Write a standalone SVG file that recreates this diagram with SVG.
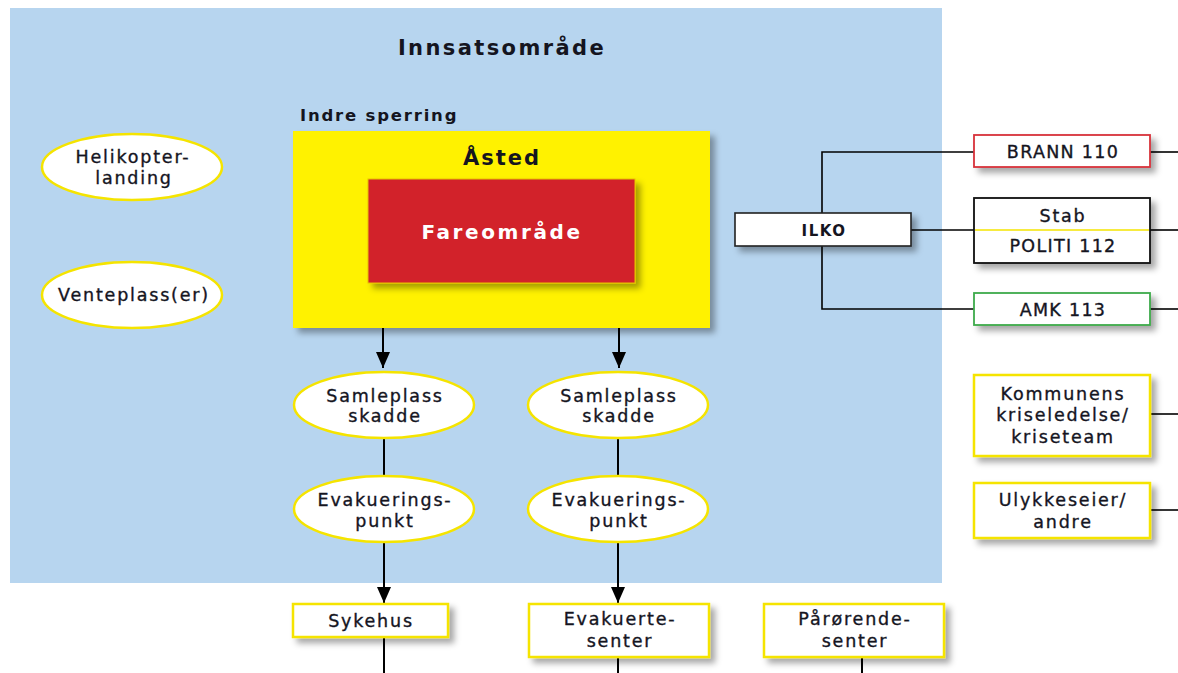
<svg xmlns="http://www.w3.org/2000/svg" width="1178" height="673" viewBox="0 0 1178 673">
<defs>
<filter id="sh" x="-20%" y="-20%" width="150%" height="160%">
<feDropShadow dx="5" dy="5" stdDeviation="3" flood-color="#000" flood-opacity="0.35"/>
</filter>
<marker id="arw" viewBox="0 0 16 14" refX="16" refY="7" markerWidth="16" markerHeight="14" markerUnits="userSpaceOnUse" orient="auto">
<path d="M0,0 L16,7 L0,14 z" fill="#000"/>
</marker>
</defs>
<style>
text{font-family:"DejaVu Sans","Liberation Sans",sans-serif;fill:#15151f;text-anchor:middle}
.t{font-size:17.5px;letter-spacing:1.8px;stroke:#15151f;stroke-width:0.35}
.b{font-weight:bold}
.ell{fill:#fff;stroke:#f5e400;stroke-width:2.5}
.yb{fill:#fff;stroke:#f5e400;stroke-width:2.5}
.ln{stroke:#000;stroke-width:2;fill:none}
.lt{stroke:#000;stroke-width:1.6;fill:none}
</style>
<rect x="10" y="8" width="932" height="575" fill="#b7d5ef"/>
<text x="502" y="55" class="b" font-size="21" letter-spacing="2.4">Innsatsområde</text>
<text x="300" y="121" class="b" font-size="16.5" letter-spacing="1.8" style="text-anchor:start">Indre sperring</text>

<g id="connectors">
<path class="ln" d="M383,328 V368" marker-end="url(#arw)"/>
<path class="ln" d="M619,328 V368" marker-end="url(#arw)"/>
<path class="ln" d="M384,438 V476"/>
<path class="ln" d="M618,438 V476"/>
<path class="ln" d="M384,542 V603" marker-end="url(#arw)"/>
<path class="ln" d="M618,542 V603" marker-end="url(#arw)"/>
<path class="ln" d="M384,637 V673"/>
<path class="ln" d="M618,657 V673"/>
<path class="ln" d="M862,657 V673"/>
<path class="lt" d="M822,213 V152 H974"/>
<path class="lt" d="M822,246 V309 H974"/>
<path class="lt" d="M911,230 H974"/>
<path class="lt" d="M1150,152 H1178"/>
<path class="lt" d="M1150,230 H1178"/>
<path class="lt" d="M1150,309 H1178"/>
<path class="lt" d="M1150,414 H1178"/>
<path class="lt" d="M1150,510 H1178"/>
</g>

<g id="asted">
<rect x="293" y="131" width="417" height="197" fill="#fff200" filter="url(#sh)"/>
<text x="502" y="165" class="b" font-size="21" letter-spacing="2">Åsted</text>
</g>
<g id="fareomrade">
<rect x="368" y="179" width="267" height="104" fill="#d2232a" stroke="#e8c000" stroke-width="1" filter="url(#sh)"/>
<text x="502" y="239" class="b" font-size="20" letter-spacing="2.6" style="fill:#fff">Fareområde</text>
</g>

<g id="helikopter">
<ellipse cx="132" cy="167" rx="90" ry="33" class="ell"/>
<text x="133" y="163" class="t">Helikopter-</text>
<text x="134" y="184" class="t">landing</text>
</g>
<g id="venteplass">
<ellipse cx="132" cy="295" rx="90" ry="33" class="ell"/>
<text x="134" y="301" class="t">Venteplass(er)</text>
</g>

<g id="samleplass1">
<ellipse cx="384" cy="405" rx="90" ry="33" class="ell"/>
<text x="385" y="402" class="t">Samleplass</text>
<text x="385" y="422" class="t">skadde</text>
</g>
<g id="samleplass2">
<ellipse cx="618" cy="405" rx="90" ry="33" class="ell"/>
<text x="619" y="402" class="t">Samleplass</text>
<text x="619" y="422" class="t">skadde</text>
</g>
<g id="evak1">
<ellipse cx="384" cy="509" rx="90" ry="33" class="ell"/>
<text x="385" y="506" class="t">Evakuerings-</text>
<text x="385" y="527" class="t">punkt</text>
</g>
<g id="evak2">
<ellipse cx="618" cy="509" rx="90" ry="33" class="ell"/>
<text x="619" y="506" class="t">Evakuerings-</text>
<text x="619" y="527" class="t">punkt</text>
</g>

<g id="sykehus">
<rect x="293" y="604" width="155" height="33" class="yb" filter="url(#sh)"/>
<text x="371" y="627" class="t">Sykehus</text>
</g>
<g id="evakuertesenter">
<rect x="529" y="604" width="180" height="53" class="yb" filter="url(#sh)"/>
<text x="620" y="625" class="t">Evakuerte-</text>
<text x="620" y="647" class="t">senter</text>
</g>
<g id="parorendesenter">
<rect x="764" y="604" width="180" height="53" class="yb" filter="url(#sh)"/>
<text x="855" y="625" class="t">Pårørende-</text>
<text x="855" y="647" class="t">senter</text>
</g>

<g id="ilko">
<rect x="735" y="213" width="176" height="33" fill="#fff" stroke="#222" stroke-width="1.6" filter="url(#sh)"/>
<text x="824" y="236" class="b" font-size="15" letter-spacing="1.5">ILKO</text>
</g>
<g id="brann">
<rect x="974" y="135" width="176" height="32" fill="#fff" stroke="#d8323a" stroke-width="1.8" filter="url(#sh)"/>
<text x="1063" y="158" class="t" style="letter-spacing:1.3px">BRANN 110</text>
</g>
<g id="politi">
<rect x="974" y="198" width="176" height="65" fill="#fff" stroke="#111" stroke-width="1.8" filter="url(#sh)"/>
<line x1="975" y1="230" x2="1149" y2="230" stroke="#f5e400" stroke-width="1.5"/>
<text x="1063" y="222" class="t">Stab</text>
<text x="1063" y="252" class="t" style="letter-spacing:1.3px">POLITI 112</text>
</g>
<g id="amk">
<rect x="974" y="293" width="176" height="32" fill="#fff" stroke="#3daa4a" stroke-width="1.8" filter="url(#sh)"/>
<text x="1063" y="316" class="t" style="letter-spacing:1.3px">AMK 113</text>
</g>
<g id="kommunens">
<rect x="974" y="375" width="176" height="81" class="yb" filter="url(#sh)"/>
<text x="1063" y="400" class="t">Kommunens</text>
<text x="1063" y="421" class="t">kriseledelse/</text>
<text x="1063" y="443" class="t">kriseteam</text>
</g>
<g id="ulykkeseier">
<rect x="974" y="483" width="176" height="55" class="yb" filter="url(#sh)"/>
<text x="1063" y="506" class="t">Ulykkeseier/</text>
<text x="1063" y="528" class="t">andre</text>
</g>
</svg>
